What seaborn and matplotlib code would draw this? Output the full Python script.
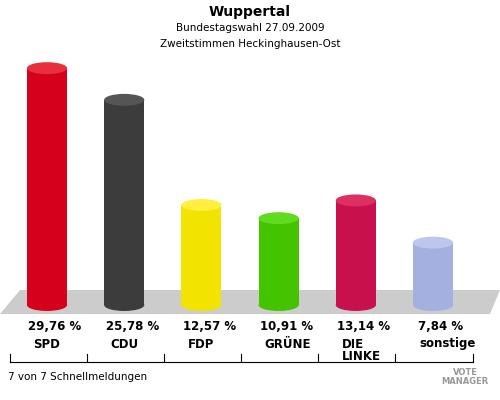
import matplotlib
matplotlib.use("Agg")
import matplotlib.pyplot as plt
import seaborn as sns
import pandas as pd
from matplotlib.patches import Ellipse, Polygon

parties = ["SPD", "CDU", "FDP", "GRÜNE", "DIE\nLINKE", "sonstige"]
values = [29.76, 25.78, 12.57, 10.91, 13.14, 7.84]
labels = ["29,76 %", "25,78 %", "12,57 %", "10,91 %", "13,14 %", "7,84 %"]
colors = ["#d4001c", "#3c3c3c", "#f2e400", "#44c400", "#c8104c", "#a4b0e0"]
tops = ["#e8303c", "#555555", "#fff040", "#60dc20", "#dc3060", "#bcc6ee"]

df = pd.DataFrame({"party": parties, "value": values})

fig = plt.figure(figsize=(5, 4), dpi=100)
# floor
fig.patches.append(Polygon([(0.0, 0.215), (0.04, 0.275), (1.0, 0.275), (0.98, 0.215)],
                           closed=True, transform=fig.transFigure,
                           facecolor="#cccccc", edgecolor="none", zorder=-1))
ax = fig.add_axes([0, 0.2375, 1, 0.6625])
ax.set_zorder(2)
ax.set_facecolor("none")
sns.barplot(data=df, x="party", y="value", hue="party", palette=colors,
            width=0.52, legend=False, ax=ax, saturation=1)
eh = 1.5
for i, (v, c) in enumerate(zip(values, tops)):
    ax.add_patch(Ellipse((i, 0), 0.52, eh, facecolor=colors[i], edgecolor="none",
                         zorder=3, clip_on=False))
    ax.add_patch(Ellipse((i, v), 0.52, eh, facecolor=c, edgecolor="none", zorder=4))
ax.set_xlim(-0.609, 5.868)
ax.set_ylim(0, 33.3)
ax.axis("off")

fig.text(0.5, 0.97, "Wuppertal", ha="center", va="center", fontsize=10, fontweight="bold")
fig.text(0.5, 0.93, "Bundestagswahl 27.09.2009", ha="center", va="center", fontsize=7.5)
fig.text(0.5, 0.89, "Zweitstimmen Heckinghausen-Ost", ha="center", va="center", fontsize=7.5)

for i, (p, l) in enumerate(zip(parties, labels)):
    xf = (47 + 77.2 * i + 8) / 500
    fig.text(xf, 1 - 327 / 400, l, ha="center", va="center", fontsize=8.5, fontweight="bold")
    yy = 1 - 344 / 400 if "\n" not in p else 1 - 338 / 400
    fig.text((47 + 77.2 * i - 14) / 500, yy, p, ha="left", va="top" if "\n" in p else "center",
             fontsize=8.5, fontweight="bold", linespacing=0.9)

ly = 1 - 362 / 400
fig.lines.append(plt.Line2D([0.02, 0.945], [ly, ly], color="black", lw=0.8, transform=fig.transFigure))
for i in range(7):
    xt = 0.02 + i * (0.925 / 6)
    fig.lines.append(plt.Line2D([xt, xt], [ly, ly + 0.02], color="black", lw=0.8, transform=fig.transFigure))
fig.text(0.015, 1 - 377 / 400, "7 von 7 Schnellmeldungen", ha="left", va="center", fontsize=7.5)
fig.text(0.93, 1 - 377 / 400, "VOTE\nMANAGER", ha="center", va="center", fontsize=6,
         fontweight="bold", color="#999999", linespacing=0.9)

fig.savefig("out.png", dpi=100)
